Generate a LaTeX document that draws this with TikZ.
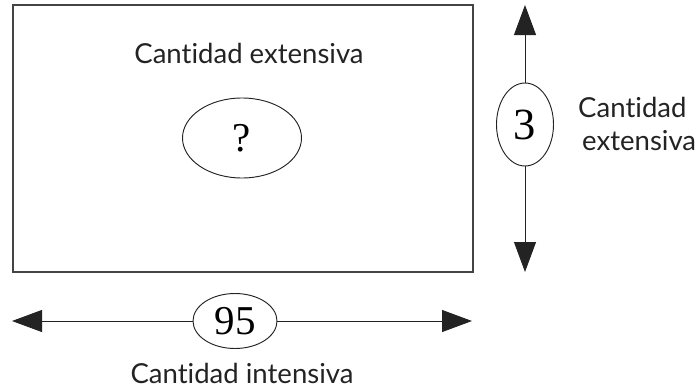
\documentclass[tikz,border=0pt]{standalone}
\usepackage{fontspec}
\setmainfont{Lato}[Ligatures=NoCommon]
\newfontfamily\numfont{Liberation Serif}
\usetikzlibrary{arrows.meta,shapes.geometric}
\definecolor{ink}{RGB}{35,35,35}

\begin{document}
\begin{tikzpicture}[x=0.03cm,y=-0.03cm,
    lbl/.style={anchor=base,font=\fontsize{23.5}{28}\selectfont,text=ink,inner sep=0},
    oval/.style={draw=ink,ellipse,line width=0.8pt,fill=white,inner sep=0,font=\fontsize{35}{38}\numfont},
    dbl/.style={-{Triangle[length=0.9cm,width=0.66cm]},ink,line width=0.8pt}]
    \useasboundingbox (0,0) rectangle (699,392);
    \node[draw=ink!85,line width=1pt,minimum width=13.8cm,minimum height=8.01cm,inner sep=0]
      (box) at (243,138.5) {};
    \node[lbl] (ext) at (249,63) {Cantidad extensiva};
    \node[oval,minimum width=3.57cm,minimum height=2.4cm] (q) at (242,138) {?};
    % vertical arrow
    \coordinate (vtop) at (525,5);
    \coordinate (vbot) at (525,272);
    \node[oval,minimum width=1.71cm,minimum height=2.49cm,font=\fontsize{38}{40}\numfont] (three) at (525,124.5) {3};
    \draw[dbl] (three) -- (vtop);
    \draw[dbl] (three) -- (vbot);
    \node[lbl,anchor=base west] (side1) at (578,117) {Cantidad};
    \node[lbl,anchor=base west] (side2) at (582,150) {extensiva};
    % horizontal arrow
    \coordinate (hl) at (12,321);
    \coordinate (hr) at (472,321);
    \node[oval,minimum width=2.52cm,minimum height=1.65cm] (nn) at (235,321) {95};
    \draw[dbl] (nn) -- (hl);
    \draw[dbl] (nn) -- (hr);
    \node[lbl] (int) at (242,383) {Cantidad intensiva};
\end{tikzpicture}
\end{document}
